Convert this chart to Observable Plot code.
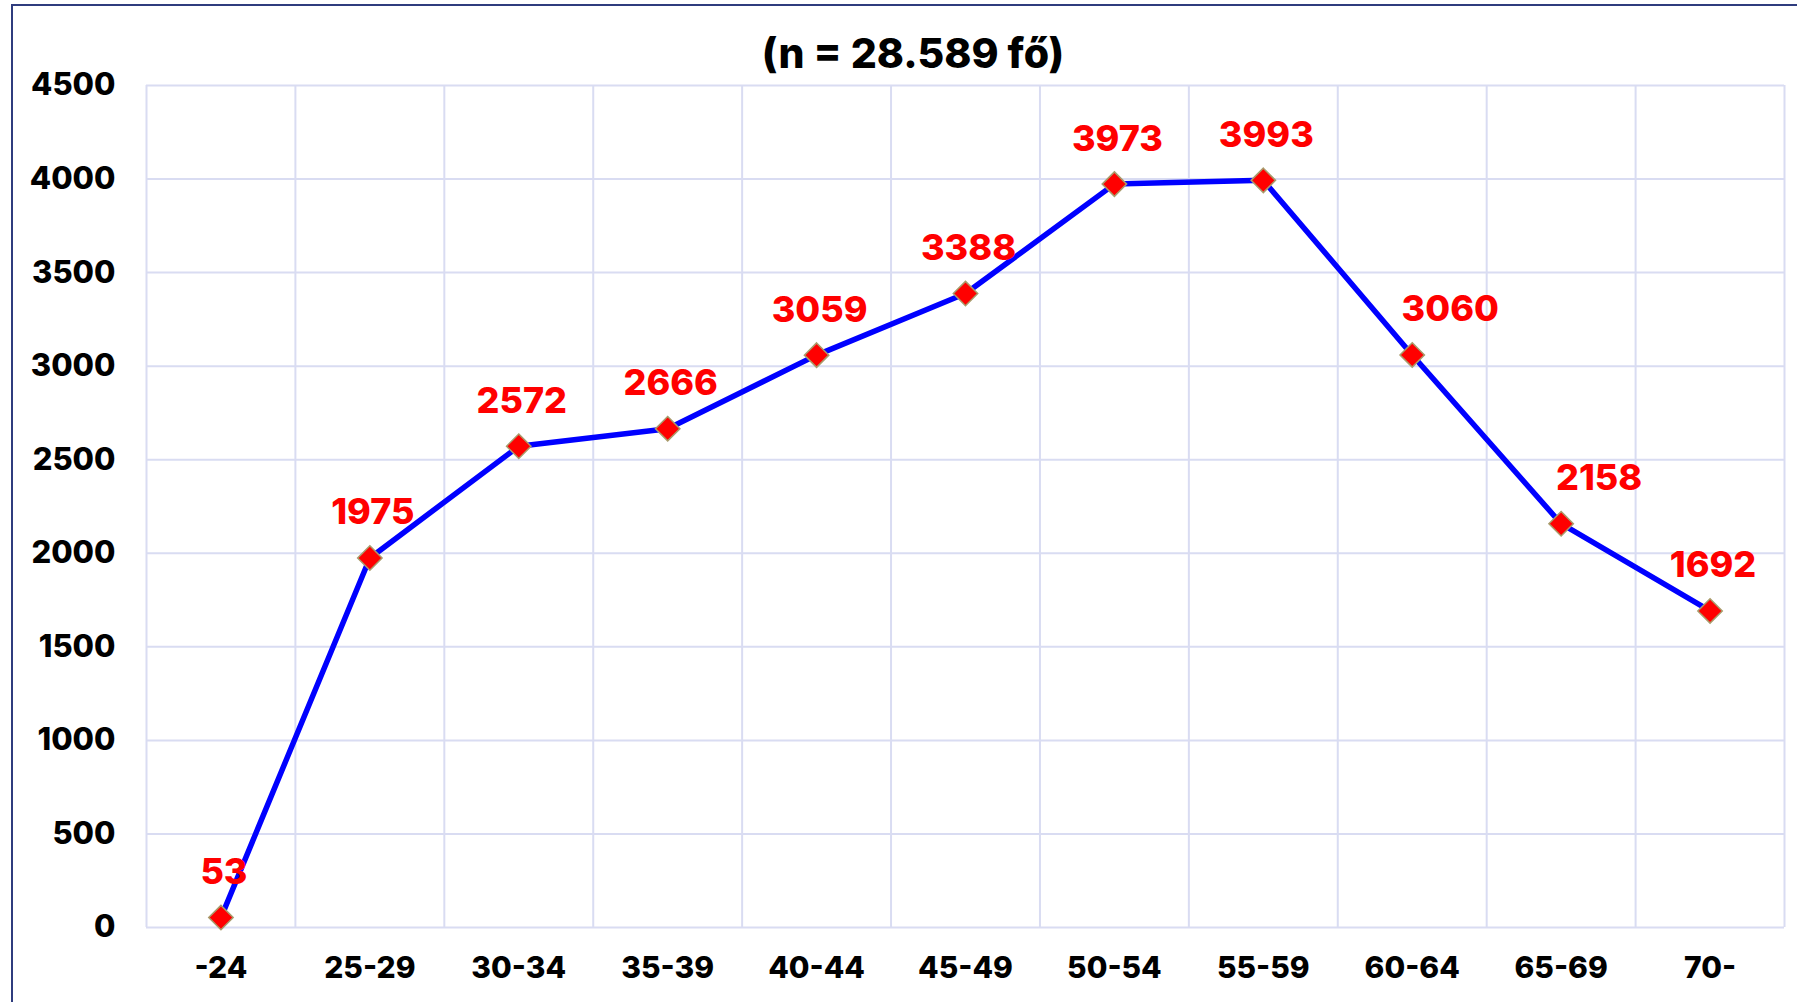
<!DOCTYPE html>
<html>
<head>
<meta charset="utf-8">
<script src="https://cdn.jsdelivr.net/npm/d3@7"></script>
<script src="https://cdn.jsdelivr.net/npm/@observablehq/plot@0.6"></script>
<style>
  html, body { margin: 0; padding: 0; background: #fff; overflow: hidden; }
  #wrap { position: relative; width: 1797px; height: 1002px; overflow: hidden; }
  #frame { position: absolute; left: 11px; top: 4px; width: 1900px; height: 1100px;
           border: 2px solid #2f3c7e; box-sizing: border-box; }
  #title { position: absolute; left: 0; top: 33px; width: 1826px; text-align: center;
           font-family: Inter, sans-serif; font-weight: 800; font-size: 41px; line-height: 41px; color: #000; }
  #chart { position: absolute; left: 0; top: 0; }
  #chart svg text { font-variant: normal !important; font-feature-settings: normal; }
</style>
</head>
<body>
<div id="wrap">
  <div id="frame"></div>
  <div id="chart"></div>
  <div id="title">(n = 28.589 fő)</div>
</div>
<script>
const categories = ["-24", "25-29", "30-34", "35-39", "40-44", "45-49", "50-54", "55-59", "60-64", "65-69", "70-"];
const values = [53, 1975, 2572, 2666, 3059, 3388, 3973, 3993, 3060, 2158, 1692];
const yTicks = [0, 500, 1000, 1500, 2000, 2500, 3000, 3500, 4000, 4500];

const data = categories.map((c, i) => ({i, c, v: values[i]}));
// points lying on a falling stretch of the line get their label pushed right
const falling = data.filter((d, i) => i > 0 && i < values.length - 1 && values[i - 1] > d.v && d.v > values[i + 1]);
const other = data.filter(d => !falling.includes(d));
const bounds = d3.range(categories.length + 1).map(k => k - 0.5);

const chart = Plot.plot({
  width: 1797,
  height: 1002,
  marginLeft: 146,
  marginRight: 13,
  marginTop: 85,
  marginBottom: 75,
  style: {fontFamily: "Inter, sans-serif", fontWeight: 800, fontSize: "31px", color: "#000", background: "transparent", overflow: "visible"},
  x: {type: "linear", domain: [-0.5, categories.length - 0.5]},
  y: {domain: [0, 4500]},
  marks: [
    Plot.ruleY(yTicks, {stroke: "#d9dcf2", strokeWidth: 2}),
    Plot.ruleX(bounds, {stroke: "#d9dcf2", strokeWidth: 2}),
    Plot.axisY({ticks: yTicks, tickFormat: d => String(d), tickSize: 0, tickPadding: 31, label: null, fontSize: 31, fontWeight: 800, fontVariant: "normal"}),
    Plot.axisX({ticks: data.map(d => d.i), tickFormat: i => categories[i], tickSize: 0, tickPadding: 29, label: null, fontSize: 30, fontWeight: 800, fontVariant: "normal"}),
    Plot.line(data, {x: "i", y: "v", stroke: "#0000ff", strokeWidth: 5.5}),
    Plot.dot(data, {x: "i", y: "v", symbol: "diamond2", r: 11, fill: "#ff0000", stroke: "#a99b6b", strokeWidth: 1.5}),
    Plot.text(other, {x: "i", y: "v", text: d => String(d.v), dx: 3, dy: -45, fill: "#ff0000", fontSize: 36, fontWeight: 800}),
    Plot.text(falling, {x: "i", y: "v", text: d => String(d.v), dx: 38, dy: -45, fill: "#ff0000", fontSize: 36, fontWeight: 800})
  ]
});
document.getElementById("chart").appendChild(chart);
</script>
</body>
</html>
